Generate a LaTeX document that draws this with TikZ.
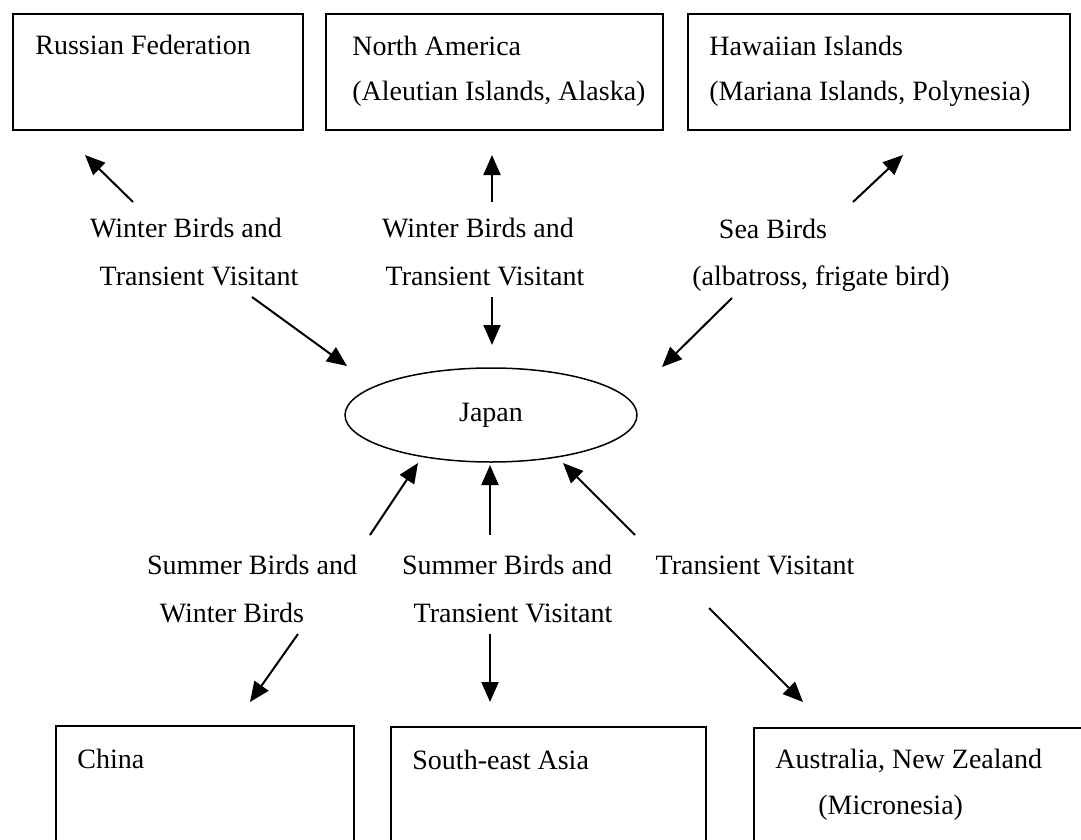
\documentclass[tikz,border=0pt]{standalone}
\usepackage{fontspec}
\setmainfont{Liberation Serif}
\usetikzlibrary{arrows.meta,shapes.geometric}
\begin{document}
\begin{tikzpicture}[x=0.5pt,y=-0.5pt,
  region/.style={draw,line width=1pt,inner sep=0pt,anchor=north west},
  lbl/.style={font=\fontsize{14}{16}\selectfont,inner sep=0pt,anchor=base},
  btxt/.style={font=\fontsize{14}{16}\selectfont,inner sep=0pt,anchor=base west},
  mig/.style={line width=1pt,-{Triangle[length=10pt,width=8.5pt]}}]
\useasboundingbox (0,0) rectangle (1081,840);
\clip (0,0) rectangle (1081,840);
% region boxes
\node[region,minimum width=145pt,minimum height=58pt] (rus) at (12,13) {};
\node[region,minimum width=168.5pt,minimum height=58pt] (nam) at (325,13) {};
\node[region,minimum width=191pt,minimum height=58pt] (haw) at (687,13) {};
\node[region,minimum width=149pt,minimum height=65pt] (chn) at (55,725) {};
\node[region,minimum width=157.5pt,minimum height=65pt] (sea) at (390,726) {};
\node[region,minimum width=180pt,minimum height=65pt] (aus) at (753,727) {};
% box texts
\node[btxt] (rust) at (35,55) {Russian Federation};
\node[btxt] (namt1) at (352,56) {North America};
\node[btxt] (namt2) at (352,101) {(Aleutian Islands, Alaska)};
\node[btxt] (hawt1) at (709,56) {Hawaiian Islands};
\node[btxt] (hawt2) at (709,101) {(Mariana Islands, Polynesia)};
\node[btxt] (chnt) at (77,768) {China};
\node[btxt] (seat) at (412,769) {South-east Asia};
\node[btxt] (aust1) at (775,768) {Australia, New Zealand};
\node[btxt] (aust2) at (818,814) {(Micronesia)};
% Japan
\node[ellipse,draw,line width=0.75pt,minimum width=146pt,minimum height=47pt,inner sep=0pt,
  font=\fontsize{14}{16}\selectfont] (jp) at (491,415) {Japan};
% labels
\node[lbl] (t1a) at (186,237) {Winter Birds and};
\node[lbl] (t1b) at (199,285) {Transient Visitant};
\node[lbl] (t2a) at (478,237) {Winter Birds and};
\node[lbl] (t2b) at (485,285) {Transient Visitant};
\node[lbl] (t3a) at (773,238) {Sea Birds};
\node[lbl] (t3b) at (821,285) {(albatross, frigate bird)};
\node[lbl] (b1a) at (252,574) {Summer Birds and};
\node[lbl] (b1b) at (232,622) {Winter Birds};
\node[lbl] (b2a) at (507,574) {Summer Birds and};
\node[lbl] (b2b) at (513,622) {Transient Visitant};
\node[lbl] (b3a) at (755,574) {Transient Visitant};
% arrow ends
\coordinate (a1s) at (133,202); \coordinate (a1e) at (85,155);
\coordinate (a2s) at (252,297); \coordinate (a2e) at (347,366);
\coordinate (a3s) at (492,202); \coordinate (a3e) at (492,155);
\coordinate (a4s) at (492,297); \coordinate (a4e) at (492,345);
\coordinate (a5s) at (853,202); \coordinate (a5e) at (903,155);
\coordinate (a6s) at (732,298); \coordinate (a6e) at (662,367);
\coordinate (a7s) at (370,535); \coordinate (a7e) at (418,463);
\coordinate (a8s) at (490,535); \coordinate (a8e) at (490,465);
\coordinate (a9s) at (635,535); \coordinate (a9e) at (563,463);
\coordinate (a10s) at (298,634); \coordinate (a10e) at (250,702);
\coordinate (a11s) at (490,634); \coordinate (a11e) at (490,702);
\coordinate (a12s) at (709,608); \coordinate (a12e) at (803,702);
\foreach \i in {1,...,12} \draw[mig] (a\i s) -- (a\i e);
\end{tikzpicture}
\end{document}
